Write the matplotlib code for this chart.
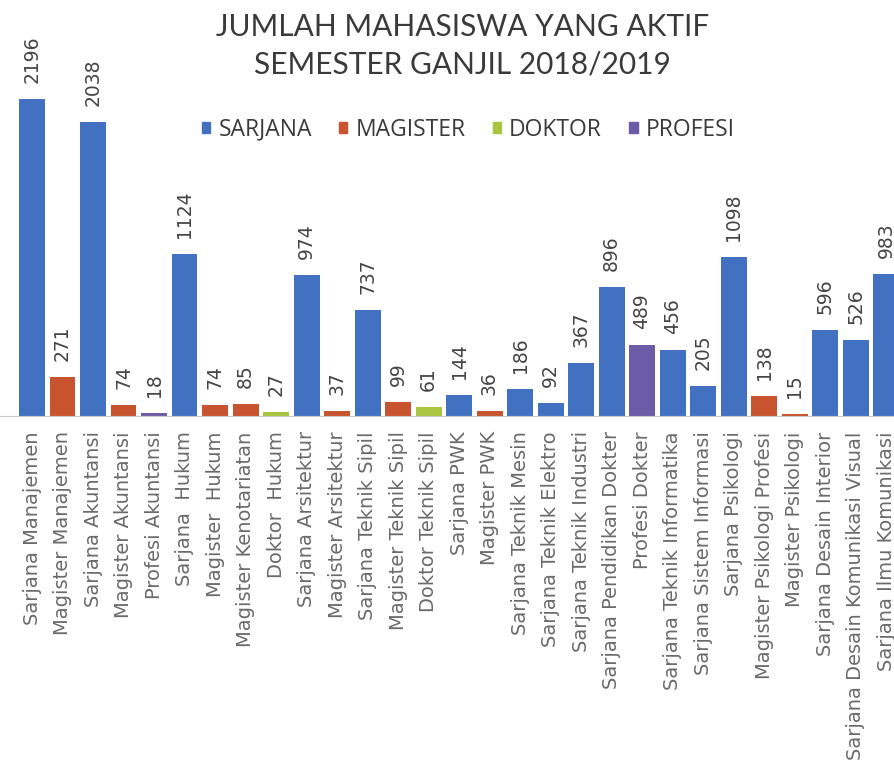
import numpy as np
import matplotlib.pyplot as plt
from matplotlib.patches import Patch

# data
programs = ['Sarjana Manajemen', 'Magister Manajemen', 'Sarjana Akuntansi',
            'Magister Akuntansi', 'Profesi Akuntansi', 'Sarjana  Hukum',
            'Magister  Hukum', 'Magister Kenotariatan', 'Doktor  Hukum',
            'Sarjana Arsitektur', 'Magister Arsitektur', 'Sarjana Teknik Sipil',
            'Magister Teknik Sipil', 'Doktor Teknik Sipil', 'Sarjana PWK',
            'Magister PWK', 'Sarjana Teknik Mesin', 'Sarjana Teknik Elektro',
            'Sarjana Teknik Industri', 'Sarjana Pendidikan Dokter', 'Profesi Dokter',
            'Sarjana Teknik Informatika', 'Sarjana Sistem Informasi',
            'Sarjana Psikologi', 'Magister Psikologi Profesi', 'Magister Psikologi',
            'Sarjana Desain Interior', 'Sarjana Desain Komunikasi Visual',
            'Sarjana Ilmu Komunikasi']
students = [2196, 271, 2038, 74, 18, 1124, 74, 85, 27, 974, 37, 737, 99, 61,
            144, 36, 186, 92, 367, 896, 489, 456, 205, 1098, 138, 15, 596, 526, 983]
level = ['S', 'M', 'S', 'M', 'P', 'S', 'M', 'M', 'D', 'S', 'M', 'S', 'M', 'D',
         'S', 'M', 'S', 'S', 'S', 'S', 'P', 'S', 'S', 'S', 'M', 'M', 'S', 'S', 'S']
level_names = {'S': 'SARJANA', 'M': 'MAGISTER', 'D': 'DOKTOR', 'P': 'PROFESI'}
colors = {'S': '#4271c2', 'M': '#c8532f', 'D': '#a9c43f', 'P': '#6c5ca8'}

plt.rcParams['font.family'] = ['Open Sans', 'DejaVu Sans']

fig = plt.figure(figsize=(8.94, 7.62), dpi=100)
ax = fig.add_axes([0, 0.454, 1, 0.546])

x = np.arange(len(programs))
bar_colors = [colors[l] for l in level]
ax.bar(x, students, width=0.85, color=bar_colors)

# value labels above the bars
for xi, v in zip(x, students):
    ax.annotate(str(v), (xi, v), xytext=(0, 11.5), textcoords='offset points',
                rotation=90, ha='center', va='bottom', fontsize=13.5,
                color='#444444', family='DejaVu Sans')

ax.set_xlim(-1.05, 28.26)
ax.set_ylim(0, 2879)
ax.set_xticks(x)
ax.set_xticklabels(programs, rotation=90, fontsize=14, color='#6a6a6a',
                   family='DejaVu Sans')
ax.tick_params(axis='x', length=0, pad=11)
ax.set_yticks([])
for side in ['top', 'right', 'left']:
    ax.spines[side].set_visible(False)
ax.spines['bottom'].set_color('#cccccc')

fig.text(0.517, 0.940, 'JUMLAH MAHASISWA YANG AKTIF\nSEMESTER GANJIL 2018/2019',
         ha='center', va='center', fontsize=21.5, color='#3a3a3a',
         family=['Lato', 'DejaVu Sans'], linespacing=1.4)

handles = [Patch(color=colors[k], label=level_names[k]) for k in ['S', 'M', 'D', 'P']]
fig.legend(handles=handles, loc='center', bbox_to_anchor=(0.524, 0.830), ncol=4,
           frameon=False, fontsize=16.5, handlelength=0.35, handleheight=0.35,
           handletextpad=0.35, columnspacing=1.2, labelcolor='#3a3a3a')

fig.savefig('out.png', dpi=100)
